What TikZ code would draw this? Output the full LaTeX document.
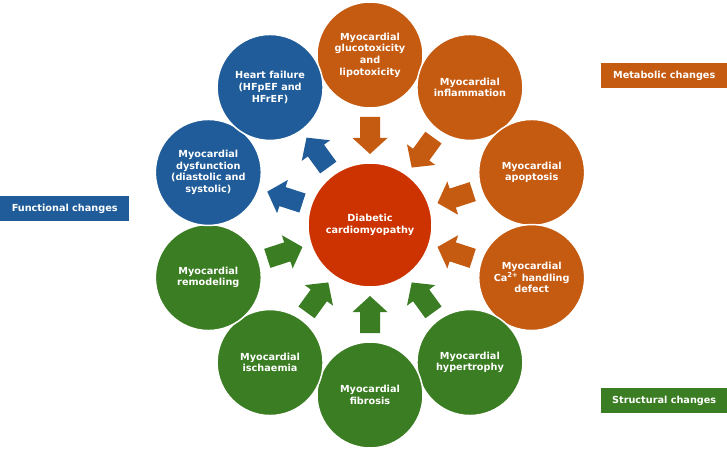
\documentclass[tikz,border=0pt]{standalone}
\usepackage{fontspec}
\setmainfont{DejaVu Sans}
\definecolor{cblue}{HTML}{1F5C99}
\definecolor{corange}{HTML}{C55A11}
\definecolor{cred}{HTML}{CC3300}
\definecolor{cgreen}{HTML}{3B7D23}
\tikzset{
  txt/.style={text=white, font=\fontsize{9.7}{11.6}\selectfont\bfseries, align=center},
  outer/.style={circle, minimum size=106pt, inner sep=0pt, draw=white, line width=1.5pt, txt},
  inner/.style={circle, minimum size=124pt, inner sep=0pt, fill=cred, draw=white, line width=1.5pt, txt},
  tag/.style={fill=#1, txt, minimum height=25pt, inner sep=0pt, anchor=north west}
}
% block arrow pointing towards the centre, at angle #1
\newcommand{\inarrow}[2]{%
  \fill[#2, rotate=#1] (108,-10) -- (87,-10) -- (87,-17.5) -- (71,0) -- (87,17.5) -- (87,10) -- (108,10) -- cycle;}
\newcommand{\outarrow}[2]{%
  \fill[#2, rotate=#1] (71,-10) -- (92,-10) -- (92,-17.5) -- (108,0) -- (92,17.5) -- (92,10) -- (71,10) -- cycle;}
\begin{document}
\begin{tikzpicture}[x=1pt,y=1pt]
\useasboundingbox (-370,-227) rectangle (357,225);
\node[inner] (c) at (0,0) {Diabetic\\cardiomyopathy};
\node[outer, fill=corange] (o1) at (90:170) {Myocardial\\glucotoxicity\\and\\lipotoxicity};
\node[outer, fill=corange] (o2) at (54:170) {Myocardial\\inflammation};
\node[outer, fill=corange] (o3) at (18:170) {Myocardial\\apoptosis};
\node[outer, fill=corange] (o4) at (-18:170) {Myocardial\\Ca\textsuperscript{2+} handling\\defect};
\node[outer, fill=cgreen] (o5) at (-54:170) {Myocardial\\hypertrophy};
\node[outer, fill=cgreen] (o6) at (-90:170) {Myocardial\\fibrosis};
\node[outer, fill=cgreen] (o7) at (-126:170) {Myocardial\\ischaemia};
\node[outer, fill=cgreen] (o8) at (-162:170) {Myocardial\\remodeling};
\node[outer, fill=cblue] (o9) at (162:170) {Myocardial\\dysfunction\\(diastolic and\\systolic)};
\node[outer, fill=cblue] (o10) at (126:170) {Heart failure\\(HFpEF and\\HFrEF)};
% inward arrows
\foreach \a/\col in {90/corange,54/corange,18/corange,-18/corange,-54/cgreen,-90/cgreen,-126/cgreen,-162/cgreen}{
  \inarrow{\a}{\col}
}
% outward arrows
\foreach \a in {162,126}{
  \outarrow{\a}{cblue}
}
\node[tag=cblue, minimum width=129pt] (lf) at (-370,29) {Functional changes};
\node[tag=corange, minimum width=126pt] (lm) at (231,162) {Metabolic changes};
\node[tag=cgreen, minimum width=126pt] (ls) at (231,-163) {Structural changes};
\end{tikzpicture}
\end{document}
